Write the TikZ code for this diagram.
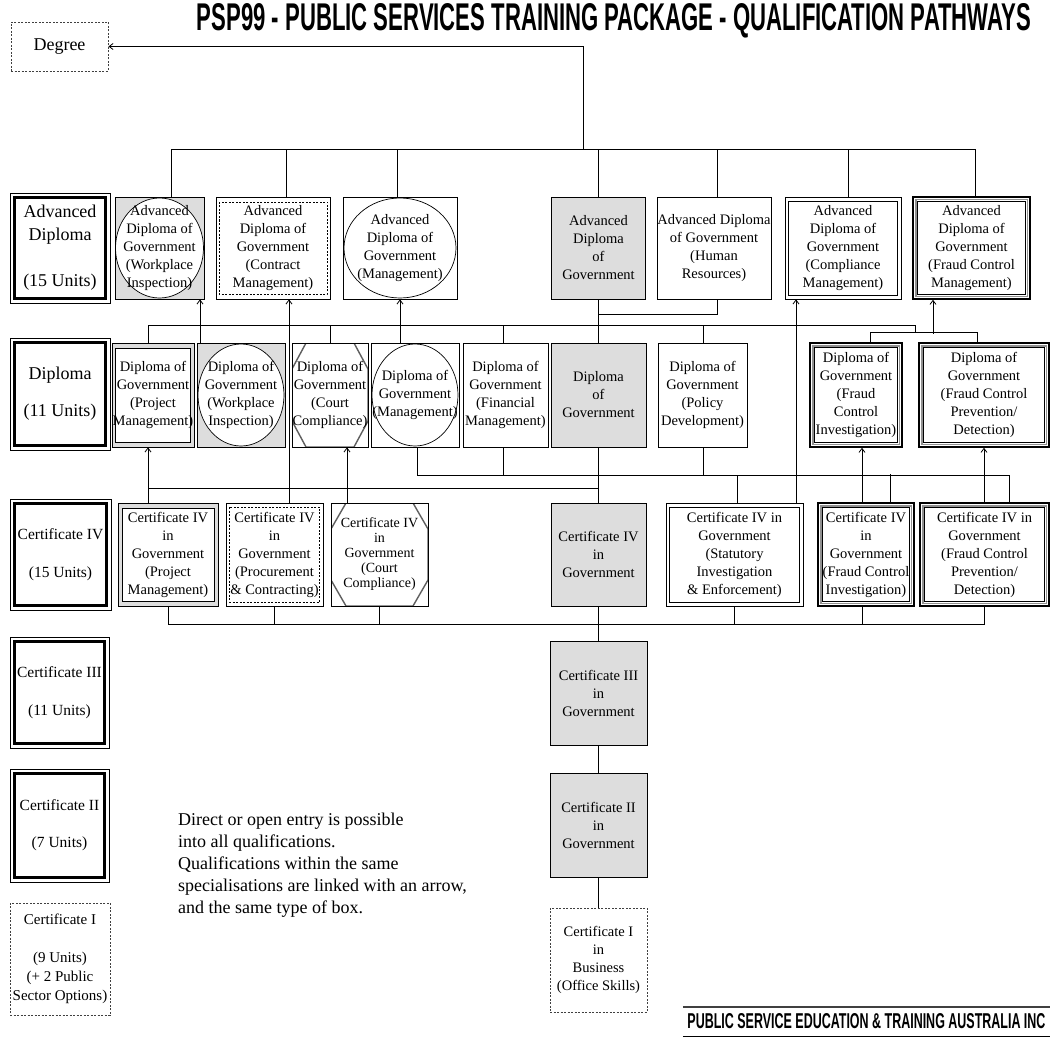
\documentclass[tikz,border=0pt]{standalone}
\usepackage{fontspec}
\setmainfont{Liberation Serif}
\newfontfamily\headfont{Liberation Sans}
\usepackage{graphicx}
\usetikzlibrary{arrows.meta,calc}
\definecolor{boxgrey}{RGB}{221,221,221}
\definecolor{octgrey}{RGB}{95,95,95}
\newcommand\bxfont{\fontsize{14.5}{18}\selectfont}
\newcommand\lblbig{\fontsize{18}{23}\selectfont}
\newcommand\lblsmall{\fontsize{15.5}{18}\selectfont}
\begin{document}
\begin{tikzpicture}[x=1pt,y=-1pt,
  conn/.style={line width=0.8pt},
  arr/.style={line width=0.8pt,-{Straight Barb[length=4pt,width=6pt]}},
  sz/.style 2 args={minimum width=#1pt, minimum height=#2pt},
  box/.style={draw, line width=0.8pt, fill=white, align=center, font=\bxfont, inner sep=0pt},
  grey/.style={fill=boxgrey},
  ell/.style 2 args={path picture={\draw[line width=0.7pt, fill=white] (path picture bounding box.center) ellipse [x radius=#1pt, y radius=#2pt];}},
  inrect/.style n args={3}{path picture={\draw[#3] ($(path picture bounding box.north west)+(#1,#2)$) rectangle ($(path picture bounding box.south east)+(-#1,-#2)$);}},
  octo/.style 2 args={path picture={\draw[octgrey, line width=1.4pt]
     ($(path picture bounding box.north west)+(#1,0)$) -- ($(path picture bounding box.north east)+(-#1,0)$) --
     ($(path picture bounding box.north east)+(0,#2)$) -- ($(path picture bounding box.south east)+(0,-#2)$) --
     ($(path picture bounding box.south east)+(-#1,0)$) -- ($(path picture bounding box.south west)+(#1,0)$) --
     ($(path picture bounding box.south west)+(0,-#2)$) -- ($(path picture bounding box.north west)+(0,#2)$) -- cycle;}},
  fraud/.style={draw, line width=1.6pt, fill=white, align=center, font=\bxfont, inner sep=0pt,
     path picture={\draw[boxgrey!65!black, line width=1.8pt] ($(path picture bounding box.north west)+(2.6,2.6)$) rectangle ($(path picture bounding box.south east)+(-2.6,-2.6)$);
       \draw[line width=0.7pt] ($(path picture bounding box.north west)+(4.3,4.3)$) rectangle ($(path picture bounding box.south east)+(-4.3,-4.3)$);}},
  lbl/.style={draw, line width=0.8pt, fill=white, align=center, inner sep=0pt,
     path picture={\draw[line width=2.8pt] ($(path picture bounding box.north west)+(4.5,4.5)$) rectangle ($(path picture bounding box.south east)+(-4.5,-4.5)$);}},
  dashbox/.style={draw=black!75, dash pattern=on 2pt off 1.5pt, line width=0.9pt, fill=white, align=center, inner sep=0pt, font=\bxfont}
]
\fill[white] (0,0) rectangle (1053,1038);
\useasboundingbox (0,0) rectangle (1053,1038);

% title and footer
\node[inner sep=0pt] (title) at (614,20.5) {\resizebox{834pt}{27pt}{\headfont\bfseries PSP99 - PUBLIC SERVICES TRAINING PACKAGE - QUALIFICATION PATHWAYS}};
\node[inner sep=0pt, sz={367}{29}] (footer) at (866.5,1021.5) {\resizebox{358pt}{15pt}{\headfont\bfseries PUBLIC SERVICE EDUCATION \& TRAINING AUSTRALIA INC}};
\draw[line width=1.8pt, black!75] (footer.north west) -- (footer.north east);
\draw[line width=1.2pt] (footer.south west) -- (footer.south east);

% degree
\node[dashbox, sz={97}{49}, font=\fontsize{18}{22}\selectfont] (degree) at (59.5,46.5) {Degree};

% row labels
\node[lbl, sz={100}{110}, font=\lblbig] (lAdv) at (60,248) {Advanced\\Diploma\\[23pt](15 Units)};
\node[lbl, sz={100}{112}, font=\lblbig] (lDip) at (60,394) {Diploma\\[14pt](11 Units)};
\node[lbl, sz={101}{111}, font=\lblsmall] (lC4) at (60.5,554.5) {Certificate IV\\[20pt](15 Units)};
\node[lbl, sz={99}{111}, font=\lblsmall] (lC3) at (59.5,692.5) {Certificate III\\[20pt](11 Units)};
\node[lbl, sz={99}{113}, font=\lblsmall] (lC2) at (59.5,825.5) {Certificate II\\[19pt](7 Units)};
\node[dashbox, sz={100}{112}, font=\fontsize{15}{19}\selectfont] (lC1) at (60,959) {Certificate I\\[19pt](9 Units)\\(+ 2 Public\\Sector Options)};

% advanced diploma row
\node[box, grey, ell={44}{50}, sz={89}{102}] (aWI) at (159.5,248) {Advanced\\Diploma of\\Government\\(Workplace\\Inspection)};
\node[box, inrect={3}{5}{dash pattern=on 2pt off 1.5pt, line width=0.8pt}, sz={114}{102}] (aCM) at (273,248) {Advanced\\Diploma of\\Government\\(Contract\\Management)};
\node[box, ell={56}{50}, sz={114}{102}] (aMG) at (400,248) {Advanced\\Diploma of\\Government\\(Management)};
\node[box, grey, sz={94}{102}] (aGV) at (598.5,248) {Advanced\\Diploma\\of\\Government};
\node[box, sz={114}{102}] (aHR) at (714,248) {Advanced Diploma\\of Government\\(Human\\Resources)};
\node[box, inrect={3.5}{4}{line width=0.8pt}, sz={116}{102}] (aCP) at (843,248) {Advanced\\Diploma of\\Government\\(Compliance\\Management)};
\node[fraud, sz={117}{102}] (aFC) at (971.5,248) {Advanced\\Diploma of\\Government\\(Fraud Control\\Management)};

% diploma row
\node[box, grey, inrect={3.5}{5}{fill=white, line width=0.8pt}, sz={82}{104}] (dPM) at (153,395) {Diploma of\\Government\\(Project\\Management)};
\node[box, grey, ell={43}{51}, sz={88}{104}] (dWI) at (241,395) {Diploma of\\Government\\(Workplace\\Inspection)};
\node[box, octo={14}{26}, sz={76}{104}] (dCC) at (330,395) {Diploma of\\Government\\(Court\\Compliance)};
\node[box, ell={43}{51}, sz={88}{104}] (dMG) at (415,395) {Diploma of\\Government\\(Management)};
\node[box, sz={85}{104}] (dFM) at (505.5,395) {Diploma of\\Government\\(Financial\\Management)};
\node[box, grey, sz={95}{104}] (dGV) at (598.5,395) {Diploma\\of\\Government};
\node[box, sz={89}{104}] (dPD) at (702.5,395) {Diploma of\\Government\\(Policy\\Development)};
\node[fraud, sz={92}{104}] (dFI) at (856,395) {Diploma of\\Government\\(Fraud\\Control\\Investigation)};
\node[fraud, sz={130}{104}] (dFP) at (984,395) {Diploma of\\Government\\(Fraud Control\\Prevention/\\Detection)};

% certificate IV row
\node[box, grey, inrect={4}{5}{fill=white, line width=0.8pt}, sz={100}{103}] (cPM) at (168,554.5) {Certificate IV\\in\\Government\\(Project\\Management)};
\node[box, inrect={3.5}{4}{dash pattern=on 2pt off 1.5pt, line width=0.8pt}, sz={97}{103}] (cPC) at (274.5,554.5) {Certificate IV\\in\\Government\\(Procurement\\\& Contracting)};
\node[box, octo={15}{26}, sz={97}{103}, font=\fontsize{14}{15}\selectfont] (cCC) at (379.5,554.5) {Certificate IV\\in\\Government\\(Court\\Compliance)};
\node[box, grey, sz={95}{103}] (cGV) at (598.5,554.5) {Certificate IV\\in\\Government};
\node[box, inrect={3.5}{4}{line width=0.8pt}, sz={137}{103}] (cSI) at (734.5,554.5) {Certificate IV in\\Government\\(Statutory\\Investigation\\\& Enforcement)};
\node[fraud, sz={96}{103}] (cFI) at (866,554.5) {Certificate IV\\in\\Government\\(Fraud Control\\Investigation)};
\node[fraud, sz={129}{103}] (cFP) at (984.5,554.5) {Certificate IV in\\Government\\(Fraud Control\\Prevention/\\Detection)};

% lower certificates
\node[box, grey, sz={97}{104}] (c3) at (598.5,693) {Certificate III\\in\\Government};
\node[box, grey, sz={97}{104}] (c2) at (598.5,825) {Certificate II\\in\\Government};
\node[dashbox, sz={97}{104}] (c1) at (598.5,960) {Certificate I\\in\\Business\\(Office Skills)};

% note
\node[anchor=north west, align=left, inner sep=0pt, font=\fontsize{18}{22}\selectfont] (note) at (178,813) {Direct or open entry is possible\\into all qualifications.\\Qualifications within the same\\specialisations are linked with an arrow,\\and the same type of box.};

% ---- connectors ----
% top bus and degree
\draw[conn] ([xshift=11.5pt]aWI.north) -- ++(0,-47) -| ([xshift=3.5pt]aFC.north);
\draw[conn] ([xshift=13pt]aCM.north) -- ++(0,-47);
\draw[conn] ([xshift=-3pt]aMG.north) -- ++(0,-47);
\draw[conn] (aGV.north) -- ++(0,-47);
\draw[conn] ([xshift=3pt]aHR.north) -- ++(0,-47);
\draw[conn] ([xshift=5pt]aCP.north) -- ++(0,-47);
\draw[arr] ([xshift=-15.5pt]aGV.north) ++(0,-47) |- (degree.east);

% advanced to diploma
\draw[conn] (aGV.south) -- (dGV.north);
\draw[conn] ([xshift=3pt]aHR.south) |- ($(aGV.south)+(0,15)$);
\draw[conn] ([xshift=-5pt]dPM.north) -- ++(0,-17) -- ++(767,0) -- ++(0,7);
\draw[conn] ([xshift=14pt]dFI.north) -- ++(0,-10) -| ([xshift=-7pt]dFP.north);
\draw[conn] (dCC.north) -- ++(0,-17);
\draw[conn] ([xshift=-2.5pt]dFM.north) -- ++(0,-17);
\draw[conn] ([xshift=0.5pt]dPD.north) -- ++(0,-17);
\draw[arr] ([xshift=-38.5pt]aFC.south) ++(0,34) -- ++(0,-34);
\draw[arr] ([xshift=-41pt]dWI.north) -- ([xshift=40.5pt]aWI.south);
\draw[arr] ([xshift=-15pt]dMG.north) -- (aMG.south);
\draw[arr] ([xshift=14.5pt]cPC.north) -- ([xshift=16pt]aCM.south);
\draw[arr] ([xshift=61.5pt]cSI.north) -- ([xshift=-47pt]aCP.south);

% diploma to certificate IV
\draw[arr] ([xshift=-20pt]cPM.north) -- ([xshift=-5pt]dPM.south);
\draw[arr] ([xshift=-32.5pt]cCC.north) -- ([xshift=17pt]dCC.south);
\draw[arr] ([xshift=-4pt]cFI.north) -- ([xshift=6pt]dFI.south);
\draw[arr] ([xshift=-0.5pt]cFP.north) -- (dFP.south);
\draw[conn] ([xshift=2pt]dMG.south) -- ++(0,28) -| ([xshift=24.5pt]cFP.north);
\draw[conn] ([xshift=-2.5pt]dFM.south) -- ++(0,28);
\draw[conn] ([xshift=0.5pt]dPD.south) -- ++(0,28);
\draw[conn] ([xshift=2.5pt]cSI.north) -- ++(0,-28);
\draw[conn] ([xshift=24pt]cFI.north) -- ++(0,-28);
\draw[conn] ([xshift=-20pt]cPM.north) ++(0,-14) -- ++(450.5,0);
\draw[conn] (dGV.south) -- (cGV.north);

% bottom bus
\draw[conn] (cPM.south) -- ++(0,18) -| ([xshift=-0.5pt]cFP.south);
\draw[conn] ([xshift=-0.5pt]cPC.south) -- ++(0,18);
\draw[conn] (cCC.south) -- ++(0,18);
\draw[conn] (cSI.south) -- ++(0,18);
\draw[conn] ([xshift=-4pt]cFI.south) -- ++(0,18);
\draw[conn] (cGV.south) -- (c3.north);
\draw[conn] (c3.south) -- (c2.north);
\draw[conn] (c2.south) -- (c1.north);
\end{tikzpicture}
\end{document}
